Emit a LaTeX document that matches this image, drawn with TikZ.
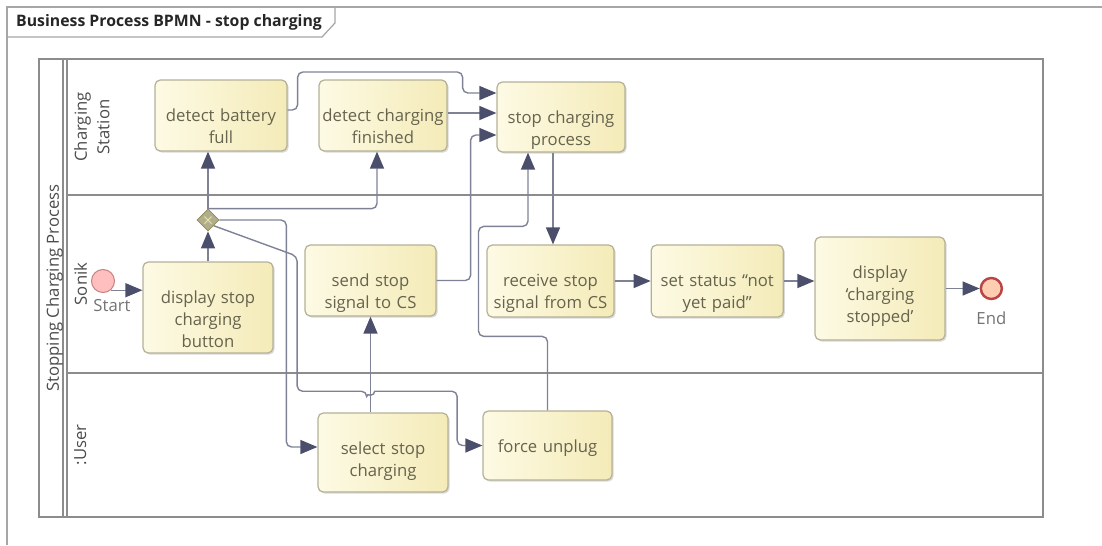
\documentclass[tikz,border=0pt]{standalone}
\usepackage{fontspec}
\setmainfont{Open Sans}
\usetikzlibrary{shapes.geometric, arrows.meta, positioning, shadows}
\definecolor{taskleft}{HTML}{FDFAE4}
\definecolor{taskright}{HTML}{F4EBB8}
\definecolor{taskborder}{HTML}{B5B198}
\definecolor{tasktext}{HTML}{66634E}
\definecolor{flowline}{HTML}{7E8297}
\definecolor{flowtip}{HTML}{4B4F6C}
\definecolor{laneline}{HTML}{8C8C8C}
\definecolor{framegray}{HTML}{A6A6A6}
\tikzstyle{task} = [rectangle, rounded corners=3pt, draw=taskborder, line width=0.7pt, left color=taskleft, right color=taskright, drop shadow={opacity=0.3, shadow xshift=0.9pt, shadow yshift=-0.9pt}, text=tasktext, font=\fontsize{9.5}{12.8}\selectfont, align=center, inner xsep=0pt, inner ysep=0pt, text height=0.82cm]
\tikzstyle{startevt} = [circle, draw=red!40!gray!70, line width=0.6pt, fill=red!25, minimum size=0.46cm, inner sep=0pt]
\tikzstyle{endevt} = [circle, draw=red!45!gray, line width=1.4pt, fill=red!30!orange!30, minimum size=0.42cm, inner sep=0pt]
\tikzstyle{gateway} = [diamond, draw=olive!40!gray, fill=olive!30!gray!70, minimum size=0.44cm, inner sep=0pt]
\tikzstyle{evtlabel} = [text=gray!90!black, font=\fontsize{9.5}{12}\selectfont]
\tikzstyle{lanelabel} = [rotate=90, anchor=north, align=center, text=black!70, font=\fontsize{9.5}{12.8}\selectfont]
\tikzstyle{lane} = [draw=laneline, line width=0.8pt]
\tikzstyle{arrow} = [draw=flowline, line width=0.8pt, rounded corners=3pt, -{Triangle[length=0.34cm, width=0.28cm, color=flowtip]}]

\begin{document}
\begin{tikzpicture}
		\useasboundingbox (0,0) rectangle (22.04,-10.9);
		% frame and title tab
		\draw [framegray, line width=0.7pt] (0.14,-10.9) -- (0.14,-0.14) -- (22.04,-0.14);
		\draw [framegray, line width=0.7pt] (0.14,-0.74) -- (6.44,-0.74) -- (6.70,-0.46) -- (6.70,-0.14);
		\node (Title) [anchor=west, text=black!85, font=\fontsize{9}{11}\selectfont\bfseries] at (0.20,-0.45) {Business Process BPMN - stop charging};
		% pool and lanes
		\draw [lane] (0.78,-1.18) rectangle (20.86,-10.34);
		\draw [lane] (1.26,-1.18) -- (1.26,-10.34);
		\draw [lane] (1.34,-1.18) -- (1.34,-10.34);
		\draw [lane] (1.34,-3.90) -- (20.86,-3.90);
		\draw [lane] (1.34,-7.46) -- (20.86,-7.46);
		\node (Pool) [lanelabel] at (0.80,-5.76) {Stopping Charging Process};
		\node (LaneCS) [lanelabel] at (1.36,-2.54) {Charging\\Station};
		\node (LaneSonik) [lanelabel] at (1.36,-5.68) {Sonik};
		\node (LaneUser) [lanelabel] at (1.36,-8.90) {:User};
		% tasks
		\node (DetectFull) [task, text width=2.64cm, text depth=0.60cm] at (4.42,-2.31) {detect battery\\full};
		\node (DetectFinished) [task, text width=2.56cm, text depth=0.60cm] at (7.66,-2.31) {detect charging\\finished};
		\node (StopProcess) [task, text width=2.56cm, text depth=0.58cm] at (11.22,-2.34) {stop charging\\process};
		\node (DisplayButton) [task, text width=2.60cm, text depth=1.00cm] at (4.16,-6.15) {display stop\\charging\\button};
		\node (SendSignal) [task, text width=2.62cm, text depth=0.60cm] at (7.41,-5.61) {send stop\\signal to CS};
		\node (ReceiveSignal) [task, text width=2.54cm, text depth=0.62cm] at (11.01,-5.62) {receive stop\\signal from CS};
		\node (SetStatus) [task, text width=2.64cm, text depth=0.62cm, right = 0.72cm of ReceiveSignal] {set status ``not\\yet paid''};
		\node (DisplayStopped) [task, text width=2.60cm, text depth=1.24cm] at (17.60,-5.77) {display\\`charging\\stopped'};
		\node (SelectStop) [task, text width=2.60cm, text depth=0.76cm] at (7.66,-9.05) {select stop\\charging};
		\node (ForceUnplug) [task, text width=2.58cm, text depth=0.56cm] at (10.95,-8.91) {force unplug};
		% events and gateway
		\node (Start) [startevt, label={[evtlabel, xshift=0.18cm]below:Start}] at (2.06,-5.62) {};
		\node (End) [endevt, right = 0.68cm of DisplayStopped, label={[evtlabel, label distance=0.1cm]below:End}] {};
		\node (Gate) [gateway, above = 0.6cm of DisplayButton] {};
		\draw [white!75!olive, line width=0.6pt] ([shift={(-0.07,-0.07)}]Gate.center) -- ([shift={(0.07,0.07)}]Gate.center);
		\draw [white!75!olive, line width=0.6pt] ([shift={(-0.07,0.07)}]Gate.center) -- ([shift={(0.07,-0.07)}]Gate.center);
		% flows
		\draw [arrow] (Start.-50) -- (Start.-50 -| DisplayButton.west);
		\draw [arrow] (DisplayButton.north) -- (Gate.south);
		\draw [arrow] (Gate.north) -- (Gate.north |- DetectFull.south);
		\draw [arrow] (Gate.north) -| ([xshift=-0.12cm]DetectFinished.south);
		\draw [arrow] (Gate.east) -- ++(1.34,0) |- ([yshift=0.11cm]SelectStop.west);
		\draw [arrow] (Gate.south east) -- ++(1.67,-0.61) -- ++(0,-2.70) -- ++(1.39,0) [sharp corners] arc[start angle=180, end angle=360, radius=0.08cm] [rounded corners=3pt] -- ++(1.65,0) |- (ForceUnplug.west);
		\draw [arrow] (SelectStop.north -| SendSignal.south) -- (SendSignal.south);
		\draw [arrow] (SendSignal.east) -- ++(0.68,0) |- ([yshift=-0.36cm]StopProcess.west);
		\draw [arrow] ([yshift=0.05cm]DetectFinished.east) -- ([yshift=0.05cm]DetectFinished.east -| StopProcess.west);
		\draw [arrow] ([yshift=0.11cm]DetectFull.east) -- ++(0.2,0) |- ++(3.30,0.76) |- ([yshift=0.48cm]StopProcess.west);
		\draw [arrow] ([xshift=-0.16cm]StopProcess.south) -- ([xshift=-0.16cm]StopProcess.south |- ReceiveSignal.north);
		\draw [arrow] (ForceUnplug.north) -- ++(0,1.48) -| ++(-1.38,2.2) -| ([xshift=-0.66cm]StopProcess.south);
		\draw [arrow] (ReceiveSignal.east) -- (ReceiveSignal.east -| SetStatus.west);
		\draw [arrow] (SetStatus.east) -- (SetStatus.east -| DisplayStopped.west);
		\draw [arrow] (End -| DisplayStopped.east) -- (End.west);
	\end{tikzpicture}
\end{document}
